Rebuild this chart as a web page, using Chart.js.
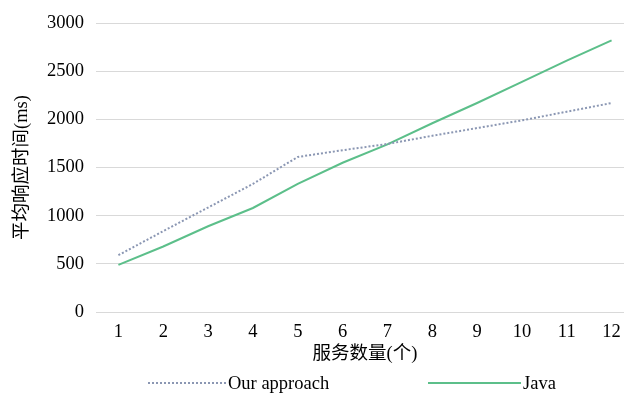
<!DOCTYPE html>
<html>
<head>
<meta charset="utf-8">
<script src="https://cdn.jsdelivr.net/npm/chart.js@4/dist/chart.umd.min.js"></script>
<style>
  html, body { margin: 0; padding: 0; background: #fff; overflow: hidden; }
  #wrap { width: 634px; height: 396px; }
</style>
</head>
<body>
<div id="wrap"><canvas id="chart" width="634" height="396"></canvas></div>
<script>
// chart data
var categories = ['1', '2', '3', '4', '5', '6', '7', '8', '9', '10', '11', '12'];
var ourApproach = [590, 840, 1085, 1330, 1610, 1680, 1745, 1830, 1910, 1990, 2080, 2170];
var javaTimes = [490, 680, 890, 1080, 1330, 1550, 1740, 1960, 2170, 2390, 2610, 2820];
var yTicks = [0, 500, 1000, 1500, 2000, 2500, 3000];

var serif = '"Liberation Serif", "Times New Roman", "Noto Sans CJK SC", serif';
var dotColor = '#8b97b3';
var greenColor = '#5cbf8a';

// legend drawn under the axis title
var bottomLegend = {
    id: 'bottomLegend',
    afterDraw: function (chart) {
        var ctx = chart.ctx;
        var items = [
            { label: 'Our approach', color: dotColor, dash: [2, 2], x0: 148, x1: 226 },
            { label: 'Java', color: greenColor, dash: [], x0: 428, x1: 521 }
        ];
        var y = 383;
        ctx.save();
        ctx.font = '18.5px ' + serif;
        ctx.textBaseline = 'middle';
        ctx.fillStyle = '#000';
        items.forEach(function (it) {
            ctx.beginPath();
            ctx.setLineDash(it.dash);
            ctx.strokeStyle = it.color;
            ctx.lineWidth = 2;
            ctx.moveTo(it.x0, y);
            ctx.lineTo(it.x1, y);
            ctx.stroke();
            ctx.setLineDash([]);
            ctx.fillText(it.label, it.x1 + 2, y + 1);
        });
        ctx.restore();
    }
};

var ctx = document.getElementById('chart');
var myChart = new Chart(ctx, {
    type: 'line',
    data: {
        labels: categories,
        datasets: [{
            label: 'Our approach',
            data: ourApproach,
            borderColor: dotColor,
            borderWidth: 2,
            borderDash: [2, 2],
            pointRadius: 0,
            tension: 0,
            fill: false
        }, {
            label: 'Java',
            data: javaTimes,
            borderColor: greenColor,
            borderWidth: 2,
            pointRadius: 0,
            tension: 0,
            fill: false
        }]
    },
    options: {
        responsive: false,
        animation: false,
        layout: { padding: { left: 0, right: 0, top: 20, bottom: 31 } },
        plugins: {
            legend: { display: false },
            tooltip: { enabled: false }
        },
        scales: {
            x: {
                offset: true,
                grid: { display: false },
                border: { display: false },
                ticks: {
                    color: '#000',
                    padding: 1,
                    maxRotation: 0,
                    font: { family: serif, size: 18.5 }
                },
                title: {
                    display: true,
                    text: '服务数量(个)',
                    color: '#000',
                    padding: { top: 0, bottom: 0 },
                    font: { family: serif, size: 18.5 }
                },
                afterFit: function (scale) { scale.height = 53; }
            },
            y: {
                min: 0,
                max: 3000,
                afterBuildTicks: function (scale) {
                    scale.ticks = yTicks.map(function (v) { return { value: v }; });
                },
                grid: { color: '#d9d9d9', lineWidth: 1, drawTicks: false },
                border: { display: false },
                ticks: {
                    color: '#000',
                    padding: 12,
                    font: { family: serif, size: 18.5 },
                    callback: function (v) { return String(v); }
                },
                title: {
                    display: true,
                    text: '平均响应时间(ms)',
                    color: '#000',
                    padding: { top: 11, bottom: 0 },
                    font: { family: serif, size: 18.5 }
                },
                afterFit: function (scale) { scale.width = 96; }
            }
        }
    },
    plugins: [bottomLegend]
});
</script>
</body>
</html>
